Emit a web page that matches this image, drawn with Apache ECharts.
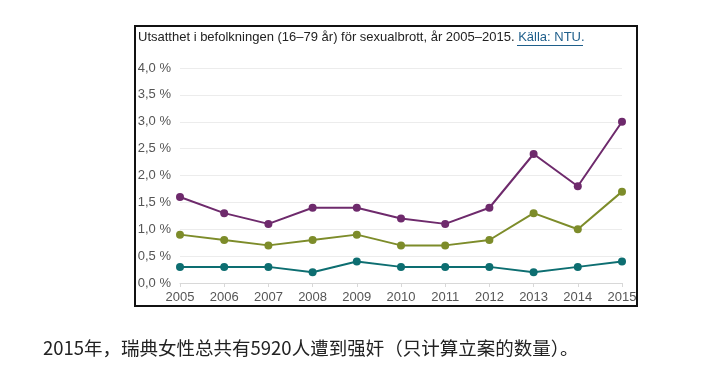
<!DOCTYPE html>
<html><head><meta charset="utf-8">
<script src="https://cdn.jsdelivr.net/npm/echarts@6/dist/echarts.min.js"></script>
<style>html,body{margin:0;padding:0;background:#fff}#c{width:721px;height:366px}</style>
</head><body><div id="c"></div>
<script>
const years = ['2005','2006','2007','2008','2009','2010','2011','2012','2013','2014','2015'];
const purpleVals = [1.6,1.3,1.1,1.4,1.4,1.2,1.1,1.4,2.4,1.8,3.0];
const oliveVals = [0.9,0.8,0.7,0.8,0.9,0.7,0.7,0.8,1.3,1.0,1.7];
const tealVals = [0.3,0.3,0.3,0.2,0.4,0.3,0.3,0.3,0.2,0.3,0.4];
const titleText = 'Utsatthet i befolkningen (16–79 år) för sexualbrott, år 2005–2015. ';
const linkText = 'Källa: NTU.';
const captionText = '2015年，瑞典女性总共有5920人遭到强奸（只计算立案的数量）。';

const chart = echarts.init(document.getElementById('c'), null, {renderer:'canvas'});
function mk(name, data, color){
  return {name, type:'line', data, symbol:'circle', symbolSize:8,
    lineStyle:{color, width:2}, itemStyle:{color}, animation:false};
}
chart.setOption({
  animation:false,
  grid:{left:180, right:99, top:68, bottom:83},
  xAxis:{type:'category', data:years, boundaryGap:false,
    axisLine:{lineStyle:{color:'#d8d8d8'}},
    axisTick:{show:true, lineStyle:{color:'#d8d8d8'}, length:4},
    axisLabel:{color:'#555', fontSize:13, fontFamily:'Liberation Sans, Arial', margin:8}},
  yAxis:{type:'value', min:0, max:4, interval:0.5,
    axisLine:{show:false}, axisTick:{show:false},
    splitLine:{lineStyle:{color:'#ececec'}},
    axisLabel:{color:'#555', fontSize:13, fontFamily:'Liberation Sans, Arial', margin:9,
      formatter:v=>v.toFixed(1).replace('.',',')+' %'}},
  series:[mk('a',purpleVals,'#6e2a6c'), mk('b',oliveVals,'#7d8c2a'), mk('c',tealVals,'#0d6e71')],
  graphic:[
    {type:'rect', shape:{x:135,y:26,width:502,height:280}, style:{fill:'none', stroke:'#111', lineWidth:2}, z:-1},
    {type:'text', left:138, top:31, style:{
      rich:{a:{fill:'#222', fontSize:13, fontFamily:'Liberation Sans, Arial'}, b:{fill:'#1f5f8b', fontSize:13, fontFamily:'Liberation Sans, Arial'}},
      text:'{a|'+titleText+'}{b|'+linkText+'}'}},
    {type:'line', shape:{x1:517,y1:45.5,x2:583,y2:45.5}, style:{stroke:'#1f5f8b', lineWidth:1}},
    {type:'text', left:43, top:339, style:{text:captionText, fill:'#222', fontSize:18.5,
      fontFamily:'Noto Sans CJK SC'}}
  ]
});
</script></body></html>
